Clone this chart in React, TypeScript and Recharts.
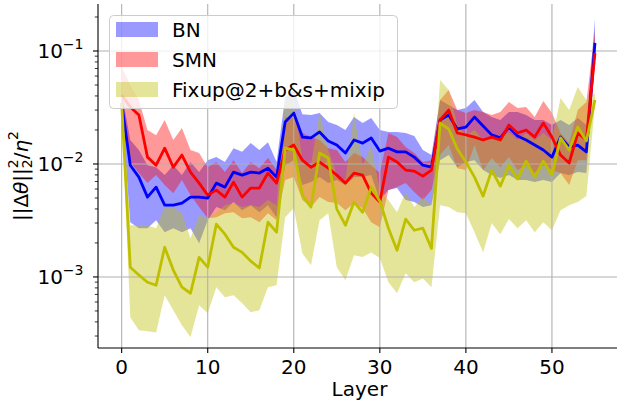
import React from 'react';
import { ComposedChart, Area, Line, XAxis, YAxis, ReferenceLine, Legend } from 'recharts';

// per-layer stats (median line + min/max band)
const bnMedian = [0.0346, 0.00975, 0.00765, 0.00509, 0.00624, 0.00433, 0.00433, 0.00451, 0.00509, 0.00509,
  0.00499, 0.00677, 0.00624, 0.00848, 0.00797, 0.00848, 0.00831, 0.00917, 0.00765, 0.0235,
  0.0282, 0.0173, 0.0170, 0.0192, 0.0160, 0.0147, 0.0125, 0.0163, 0.0153, 0.0170,
  0.0130, 0.0138, 0.0128, 0.0128, 0.0115, 0.00975, 0.00936, 0.0245, 0.0271, 0.0204,
  0.0212, 0.0260, 0.0217, 0.0181, 0.0170, 0.0212, 0.0177, 0.0163, 0.0147, 0.0133,
  0.0115, 0.0173, 0.0141, 0.0147, 0.0128, 0.118];
const bnLow = [0.0313, 0.00305, 0.0027, 0.0027, 0.00318, 0.00249, 0.0027, 0.00249, 0.0027, 0.00199,
  0.00318, 0.00415, 0.0039, 0.0046, 0.0039, 0.00432, 0.00374, 0.00432, 0.00338, 0.00976,
  0.0108, 0.0065, 0.00691, 0.00765, 0.00677, 0.0072, 0.0065, 0.00765, 0.00765, 0.00797,
  0.00479, 0.00587, 0.00612, 0.00479, 0.0046, 0.00415, 0.00432, 0.0108, 0.0120, 0.00937,
  0.0104, 0.0108, 0.00883, 0.00797, 0.0075, 0.00797, 0.0072, 0.0072, 0.00691, 0.0072,
  0.00691, 0.0083, 0.00797, 0.00848, 0.0083, 0.0832];
const bnHigh = [0.0433, 0.0163, 0.0133, 0.00976, 0.00937, 0.00797, 0.00976, 0.00797, 0.0104, 0.00848,
  0.0108, 0.0115, 0.0104, 0.0138, 0.0128, 0.0153, 0.0133, 0.0156, 0.0104, 0.0392,
  0.0451, 0.0276, 0.0271, 0.0282, 0.0235, 0.0221, 0.0200, 0.0260, 0.0230, 0.0255,
  0.0200, 0.0192, 0.0192, 0.0188, 0.0177, 0.0133, 0.0120, 0.0368, 0.0332, 0.0300,
  0.0313, 0.0368, 0.0288, 0.0260, 0.0245, 0.0288, 0.0288, 0.0271, 0.0245, 0.0245,
  0.0221, 0.0245, 0.0221, 0.0255, 0.0221, 0.192];

const smnMedian = [0.0408, 0.0319, 0.0271, 0.0115, 0.00975, 0.0138, 0.00936, 0.0120, 0.00848, 0.00677,
  0.0053, 0.00587, 0.00509, 0.00691, 0.00509, 0.00612, 0.00612, 0.00831, 0.00677, 0.0133,
  0.0147, 0.0108, 0.00936, 0.0104, 0.00917, 0.00797, 0.00677, 0.00831, 0.00797, 0.00552,
  0.0046, 0.0115, 0.0104, 0.00883, 0.00865, 0.00781, 0.00883, 0.0245, 0.0300, 0.0188,
  0.0181, 0.0173, 0.0163, 0.0173, 0.0163, 0.0221, 0.0188, 0.0200, 0.0173, 0.0230,
  0.0173, 0.0120, 0.0102, 0.0188, 0.0163, 0.096];
const smnLow = [0.0332, 0.0104, 0.0083, 0.00677, 0.00797, 0.0065, 0.00552, 0.0072, 0.0053, 0.00415,
  0.00331, 0.00338, 0.00366, 0.00374, 0.00331, 0.00338, 0.00305, 0.00366, 0.00318, 0.0072,
  0.00765, 0.00479, 0.00415, 0.00509, 0.0046, 0.00451, 0.0039, 0.00451, 0.00405, 0.00305,
  0.00276, 0.00587, 0.00624, 0.00677, 0.00564, 0.00479, 0.00587, 0.0120, 0.0147, 0.00917,
  0.00883, 0.0147, 0.00883, 0.0113, 0.00937, 0.0115, 0.00883, 0.00976, 0.0083, 0.00976,
  0.00883, 0.0083, 0.0065, 0.0108, 0.0108, 0.0832];
const smnHigh = [0.0721, 0.0500, 0.0368, 0.0200, 0.0180, 0.0245, 0.0163, 0.0208, 0.0133, 0.0125,
  0.00937, 0.0104, 0.00848, 0.0108, 0.0083, 0.0104, 0.00917, 0.0113, 0.00883, 0.0260,
  0.0255, 0.0188, 0.0173, 0.0163, 0.0138, 0.0133, 0.0104, 0.0125, 0.0115, 0.00976,
  0.0083, 0.0188, 0.0173, 0.0141, 0.0125, 0.0104, 0.0108, 0.0368, 0.0451, 0.0300,
  0.0282, 0.0300, 0.0288, 0.0271, 0.0288, 0.0353, 0.0313, 0.0319, 0.0260, 0.0361,
  0.0282, 0.0188, 0.0153, 0.0300, 0.0353, 0.1535];

const fixMedian = [0.0346, 0.00122, 0.00104, 0.000898, 0.000844, 0.00183, 0.00115, 0.000811, 0.000717, 0.00149,
  0.00122, 0.00293, 0.00239, 0.00183, 0.00165, 0.00138, 0.0012, 0.00305, 0.00249, 0.0138,
  0.0133, 0.0053, 0.00415, 0.0125, 0.0113, 0.00399, 0.00287, 0.0046, 0.00374, 0.00624,
  0.00469, 0.0027, 0.00172, 0.00325, 0.00259, 0.0027, 0.00179, 0.0230, 0.0204, 0.0136,
  0.0104, 0.00765, 0.00519, 0.00883, 0.00637, 0.00975, 0.00735, 0.0106, 0.00765, 0.0106,
  0.00797, 0.0170, 0.0133, 0.0212, 0.0160, 0.0368];
const fixLow = [0.0313, 0.00044, 0.000337, 0.00033, 0.000323, 0.000689, 0.000507, 0.000373, 0.000292, 0.000561,
  0.000477, 0.000811, 0.000661, 0.000689, 0.000585, 0.000487, 0.000507, 0.000811, 0.000845, 0.00338,
  0.00405, 0.00162, 0.00127, 0.00318, 0.00366, 0.00122, 0.000935, 0.00156, 0.0015, 0.00165,
  0.00147, 0.000898, 0.000717, 0.00108, 0.000898, 0.00097, 0.000811, 0.00432, 0.00415, 0.00374,
  0.00366, 0.00249, 0.00165, 0.00299, 0.00239, 0.00325, 0.0027, 0.00318, 0.00249, 0.00305,
  0.00259, 0.0039, 0.00432, 0.0046, 0.0052, 0.0332];
const fixHigh = [0.0408, 0.00287, 0.00287, 0.00287, 0.0027, 0.00415, 0.00415, 0.00366, 0.0022, 0.00352,
  0.00331, 0.00374, 0.00432, 0.00451, 0.00415, 0.00432, 0.00415, 0.00479, 0.00432, 0.0392,
  0.0392, 0.0108, 0.00976, 0.0288, 0.0133, 0.00797, 0.0072, 0.0282, 0.00976, 0.0147,
  0.00587, 0.00479, 0.00374, 0.00564, 0.00415, 0.00509, 0.00432, 0.0553, 0.0451, 0.0221,
  0.0180, 0.0200, 0.0163, 0.0180, 0.0163, 0.0192, 0.0163, 0.0188, 0.0163, 0.0188,
  0.0163, 0.0383, 0.0300, 0.0480, 0.0368, 0.0425];

const xTicks = [0, 10, 20, 30, 40, 50];
const yMajor = [1e-3, 1e-2, 1e-1];
const yTicks = [3e-4, 4e-4, 5e-4, 6e-4, 7e-4, 8e-4, 9e-4, 1e-3,
  2e-3, 3e-3, 4e-3, 5e-3, 6e-3, 7e-3, 8e-3, 9e-3, 1e-2,
  2e-2, 3e-2, 4e-2, 5e-2, 6e-2, 7e-2, 8e-2, 9e-2, 1e-1, 2e-1];

const series = [
  { name: 'BN', color: '#0000ff' },
  { name: 'SMN', color: '#ff0000' },
  { name: 'Fixup@2+b&s+mixip', color: '#bfbf00' },
];

const FONT = '"DejaVu Sans", sans-serif';
const FS = 20;
const FS_SMALL = 14;

const data = bnMedian.map((bn, i) => ({
  layer: i,
  bn,
  bnBand: [bnLow[i], bnHigh[i]],
  smn: smnMedian[i],
  smnBand: [smnLow[i], smnHigh[i]],
  fix: fixMedian[i],
  fixBand: [fixLow[i], fixHigh[i]],
}));

const YTick = (props: any) => {
  const { x, y, payload } = props;
  const lg = Math.log10(payload.value);
  const exp = Math.round(lg);
  if (Math.abs(lg - exp) > 1e-6) {
    return <line x1={x - 3.2} x2={x} y1={y} y2={y} stroke="#000" strokeWidth={0.8} />;
  }
  return (
    <g>
      <line x1={x - 5} x2={x} y1={y} y2={y} stroke="#000" strokeWidth={1.1} />
      <text x={x - 14.5} y={y + 7} textAnchor="end" fontFamily={FONT} fontSize={FS} fill="#000">
        <tspan>10</tspan>
        <tspan dy={-9} fontSize={FS_SMALL}>{'\u2212' + Math.abs(exp)}</tspan>
      </text>
    </g>
  );
};

const YLabel = (props: any) => {
  const vb = props.viewBox || { x: 0, y: 4, width: 98, height: 344 };
  const cx = vb.x + 28;
  const cy = vb.y + vb.height / 2;
  return (
    <text transform={`translate(${cx},${cy}) rotate(-90)`} textAnchor="middle"
      fontFamily={FONT} fontSize={FS} fill="#000">
      <tspan>||Δ</tspan>
      <tspan fontStyle="italic">θ</tspan>
      <tspan>||</tspan>
      <tspan fontSize={FS_SMALL} dy={-10}>2</tspan>
      <tspan fontSize={FS_SMALL} dx={-9} dy={14}>2</tspan>
      <tspan dy={-4}>/</tspan>
      <tspan fontStyle="italic">η</tspan>
      <tspan fontSize={FS_SMALL} dy={-10}>2</tspan>
    </text>
  );
};

const XLabel = (props: any) => {
  const vb = props.viewBox || { x: 98, y: 348, width: 519, height: 57 };
  return (
    <text x={vb.x + vb.width / 2 + 2} y={vb.y + 48} textAnchor="middle" fontFamily={FONT} fontSize={FS} fill="#000">
      Layer
    </text>
  );
};

const LegendBox = () => (
  <svg width={290} height={95} style={{ display: 'block' }}>
    <rect x={0.5} y={0.5} width={288} height={93} rx={4} ry={4}
      fill="#fff" fillOpacity={0.8} stroke="#cccccc" strokeWidth={1} />
    {series.map((s, k) => (
      <g key={s.name}>
        <rect x={7} y={7 + k * 30} width={42} height={15} fill={s.color} fillOpacity={0.4} />
        <text x={63} y={22 + k * 30} fontFamily={FONT} fontSize={FS} fill="#000">{s.name}</text>
      </g>
    ))}
  </svg>
);

export default function App() {
  return (
    <div style={{ position: 'absolute', left: 0, top: 0, width: 617, height: 405, overflow: 'hidden', background: '#fff' }}>
      <ComposedChart width={617} height={405} data={data} margin={{ top: 4, right: 0, left: 0, bottom: 0 }}>
        <XAxis
          dataKey="layer"
          type="number"
          domain={[-2.75, 57.56]}
          allowDataOverflow
          ticks={xTicks}
          height={57}
          tickSize={5}
          tickMargin={7}
          tick={{ fill: '#000', fontSize: FS, fontFamily: FONT }}
          tickLine={{ stroke: '#000', strokeWidth: 1.1 }}
          axisLine={{ stroke: '#000', strokeWidth: 1.1 }}
          label={(p: any) => <XLabel {...p} />}
        />
        <XAxis
          xAxisId="top"
          orientation="top"
          dataKey="layer"
          type="number"
          domain={[-2.75, 57.56]}
          allowDataOverflow
          height={0}
          tick={false}
          tickLine={false}
          axisLine={{ stroke: '#000', strokeWidth: 1.1 }}
        />
        <YAxis
          scale="log"
          type="number"
          domain={[2.35e-4, 0.2606]}
          allowDataOverflow
          ticks={yTicks}
          interval={0}
          width={98}
          tickSize={0}
          tickMargin={0}
          tickLine={false}
          tick={<YTick />}
          axisLine={{ stroke: '#000', strokeWidth: 1.1 }}
          label={(p: any) => <YLabel {...p} />}
        />

        <Area dataKey="bnBand" type="linear" stroke="none" fill="#0000ff" fillOpacity={0.4}
          dot={false} activeDot={false} isAnimationActive={false} />
        <Area dataKey="smnBand" type="linear" stroke="none" fill="#ff0000" fillOpacity={0.4}
          dot={false} activeDot={false} isAnimationActive={false} />
        <Area dataKey="fixBand" type="linear" stroke="none" fill="#bfbf00" fillOpacity={0.4}
          dot={false} activeDot={false} isAnimationActive={false} />

        {xTicks.map((t) => (
          <ReferenceLine key={`gx-${t}`} x={t} stroke="#b0b0b0" strokeWidth={1.1} zIndex={150} />
        ))}
        {yMajor.map((t) => (
          <ReferenceLine key={`gy-${t}`} y={t} stroke="#b0b0b0" strokeWidth={1.1} zIndex={150} />
        ))}

        <Line dataKey="bn" type="linear" stroke="#0000ff" strokeWidth={2.8} strokeLinejoin="round"
          dot={false} activeDot={false} isAnimationActive={false} />
        <Line dataKey="smn" type="linear" stroke="#ff0000" strokeWidth={2.8} strokeLinejoin="round"
          dot={false} activeDot={false} isAnimationActive={false} />
        <Line dataKey="fix" type="linear" stroke="#bfbf00" strokeWidth={2.8} strokeLinejoin="round"
          dot={false} activeDot={false} isAnimationActive={false} />

        <Legend
          layout="horizontal"
          verticalAlign="middle"
          align="center"
          content={() => <LegendBox />}
          wrapperStyle={{ left: 109, top: 15, width: 290, height: 95, lineHeight: 0 }}
        />
      </ComposedChart>
    </div>
  );
}
